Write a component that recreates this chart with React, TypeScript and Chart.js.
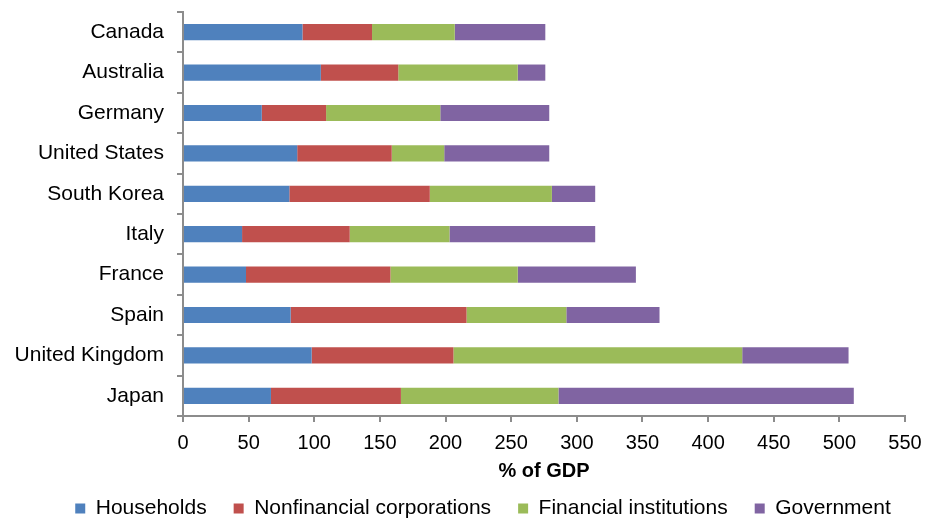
import React, { useEffect, useRef } from "react";
import { Chart, registerables } from "chart.js";

Chart.register(...registerables);

const countries = [
  "Canada",
  "Australia",
  "Germany",
  "United States",
  "South Korea",
  "Italy",
  "France",
  "Spain",
  "United Kingdom",
  "Japan",
];

const households = [91, 105, 60, 87, 81, 45, 48, 82, 98, 67];
const nonfinancialCorporations = [53, 59, 49, 72, 107, 82, 110, 134, 108, 99];
const financialInstitutions = [63, 91, 87, 40, 93, 76, 97, 76, 220, 120];
const government = [69, 21, 83, 80, 33, 111, 90, 71, 81, 225];

const xTicks = [0, 50, 100, 150, 200, 250, 300, 350, 400, 450, 500, 550];

const FONT = "'Liberation Sans', Arial, sans-serif";
const AXIS = "#8c8c8c";

export default function App() {
  const ref = useRef<HTMLCanvasElement | null>(null);

  useEffect(() => {
    document.body.style.margin = "0";
    const canvas = ref.current;
    if (!canvas) return;
    const chart = new Chart(canvas, {
      type: "bar",
      data: {
        labels: countries,
        datasets: [
          { label: "Households", data: households, backgroundColor: "#4F81BD" },
          { label: "Nonfinancial corporations", data: nonfinancialCorporations, backgroundColor: "#C0504D" },
          { label: "Financial institutions", data: financialInstitutions, backgroundColor: "#9BBB59" },
          { label: "Government", data: government, backgroundColor: "#8064A2" },
        ],
      },
      options: {
        indexAxis: "y",
        animation: false,
        responsive: false,
        devicePixelRatio: 1,
        datasets: {
          bar: { categoryPercentage: 1, barPercentage: 0.4 },
        },
        layout: { padding: { top: 0, right: 0, left: 30, bottom: -10 } },
        scales: {
          x: {
            stacked: true,
            min: 0,
            max: 550,
            afterBuildTicks: (scale: any) => {
              scale.ticks = xTicks.map((v) => ({ value: v }));
            },
            afterFit: (scale: any) => {
              scale.height = 55;
              scale.paddingLeft = 0;
              scale.paddingRight = 31;
            },
            border: { display: true, color: AXIS, width: 2 },
            grid: { drawOnChartArea: false, drawTicks: true, tickLength: 6, color: AXIS, lineWidth: 2 },
            ticks: { color: "#000", font: { family: FONT, size: 20 }, padding: 9, maxRotation: 0 },
            title: {
              display: true,
              text: "% of GDP",
              color: "#000",
              font: { family: FONT, size: 20, weight: "bold" },
              padding: { top: 0, bottom: -12 },
            },
          },
          y: {
            stacked: true,
            afterFit: (scale: any) => {
              scale.width = 153;
              scale.paddingTop = 12;
              scale.paddingBottom = 0;
              scale._computeLabelArea = () => undefined;
            },
            border: { display: true, color: AXIS, width: 2 },
            grid: { offset: true, drawOnChartArea: false, drawTicks: true, tickLength: 6, color: AXIS, lineWidth: 2 },
            ticks: { color: "#000", font: { family: FONT, size: 21 }, padding: 13 },
          },
        },
        plugins: {
          legend: {
            position: "bottom",
            labels: {
              color: "#000",
              font: { family: FONT, size: 21 },
              boxWidth: 10,
              boxHeight: 10,
              padding: 27,
            },
          },
          tooltip: { enabled: false },
        },
      },
    });
    return () => chart.destroy();
  }, []);

  return (
    <div style={{ width: 936, height: 519 }}>
      <canvas ref={ref} width={936} height={519} style={{ width: 936, height: 519, display: "block" }} />
    </div>
  );
}
